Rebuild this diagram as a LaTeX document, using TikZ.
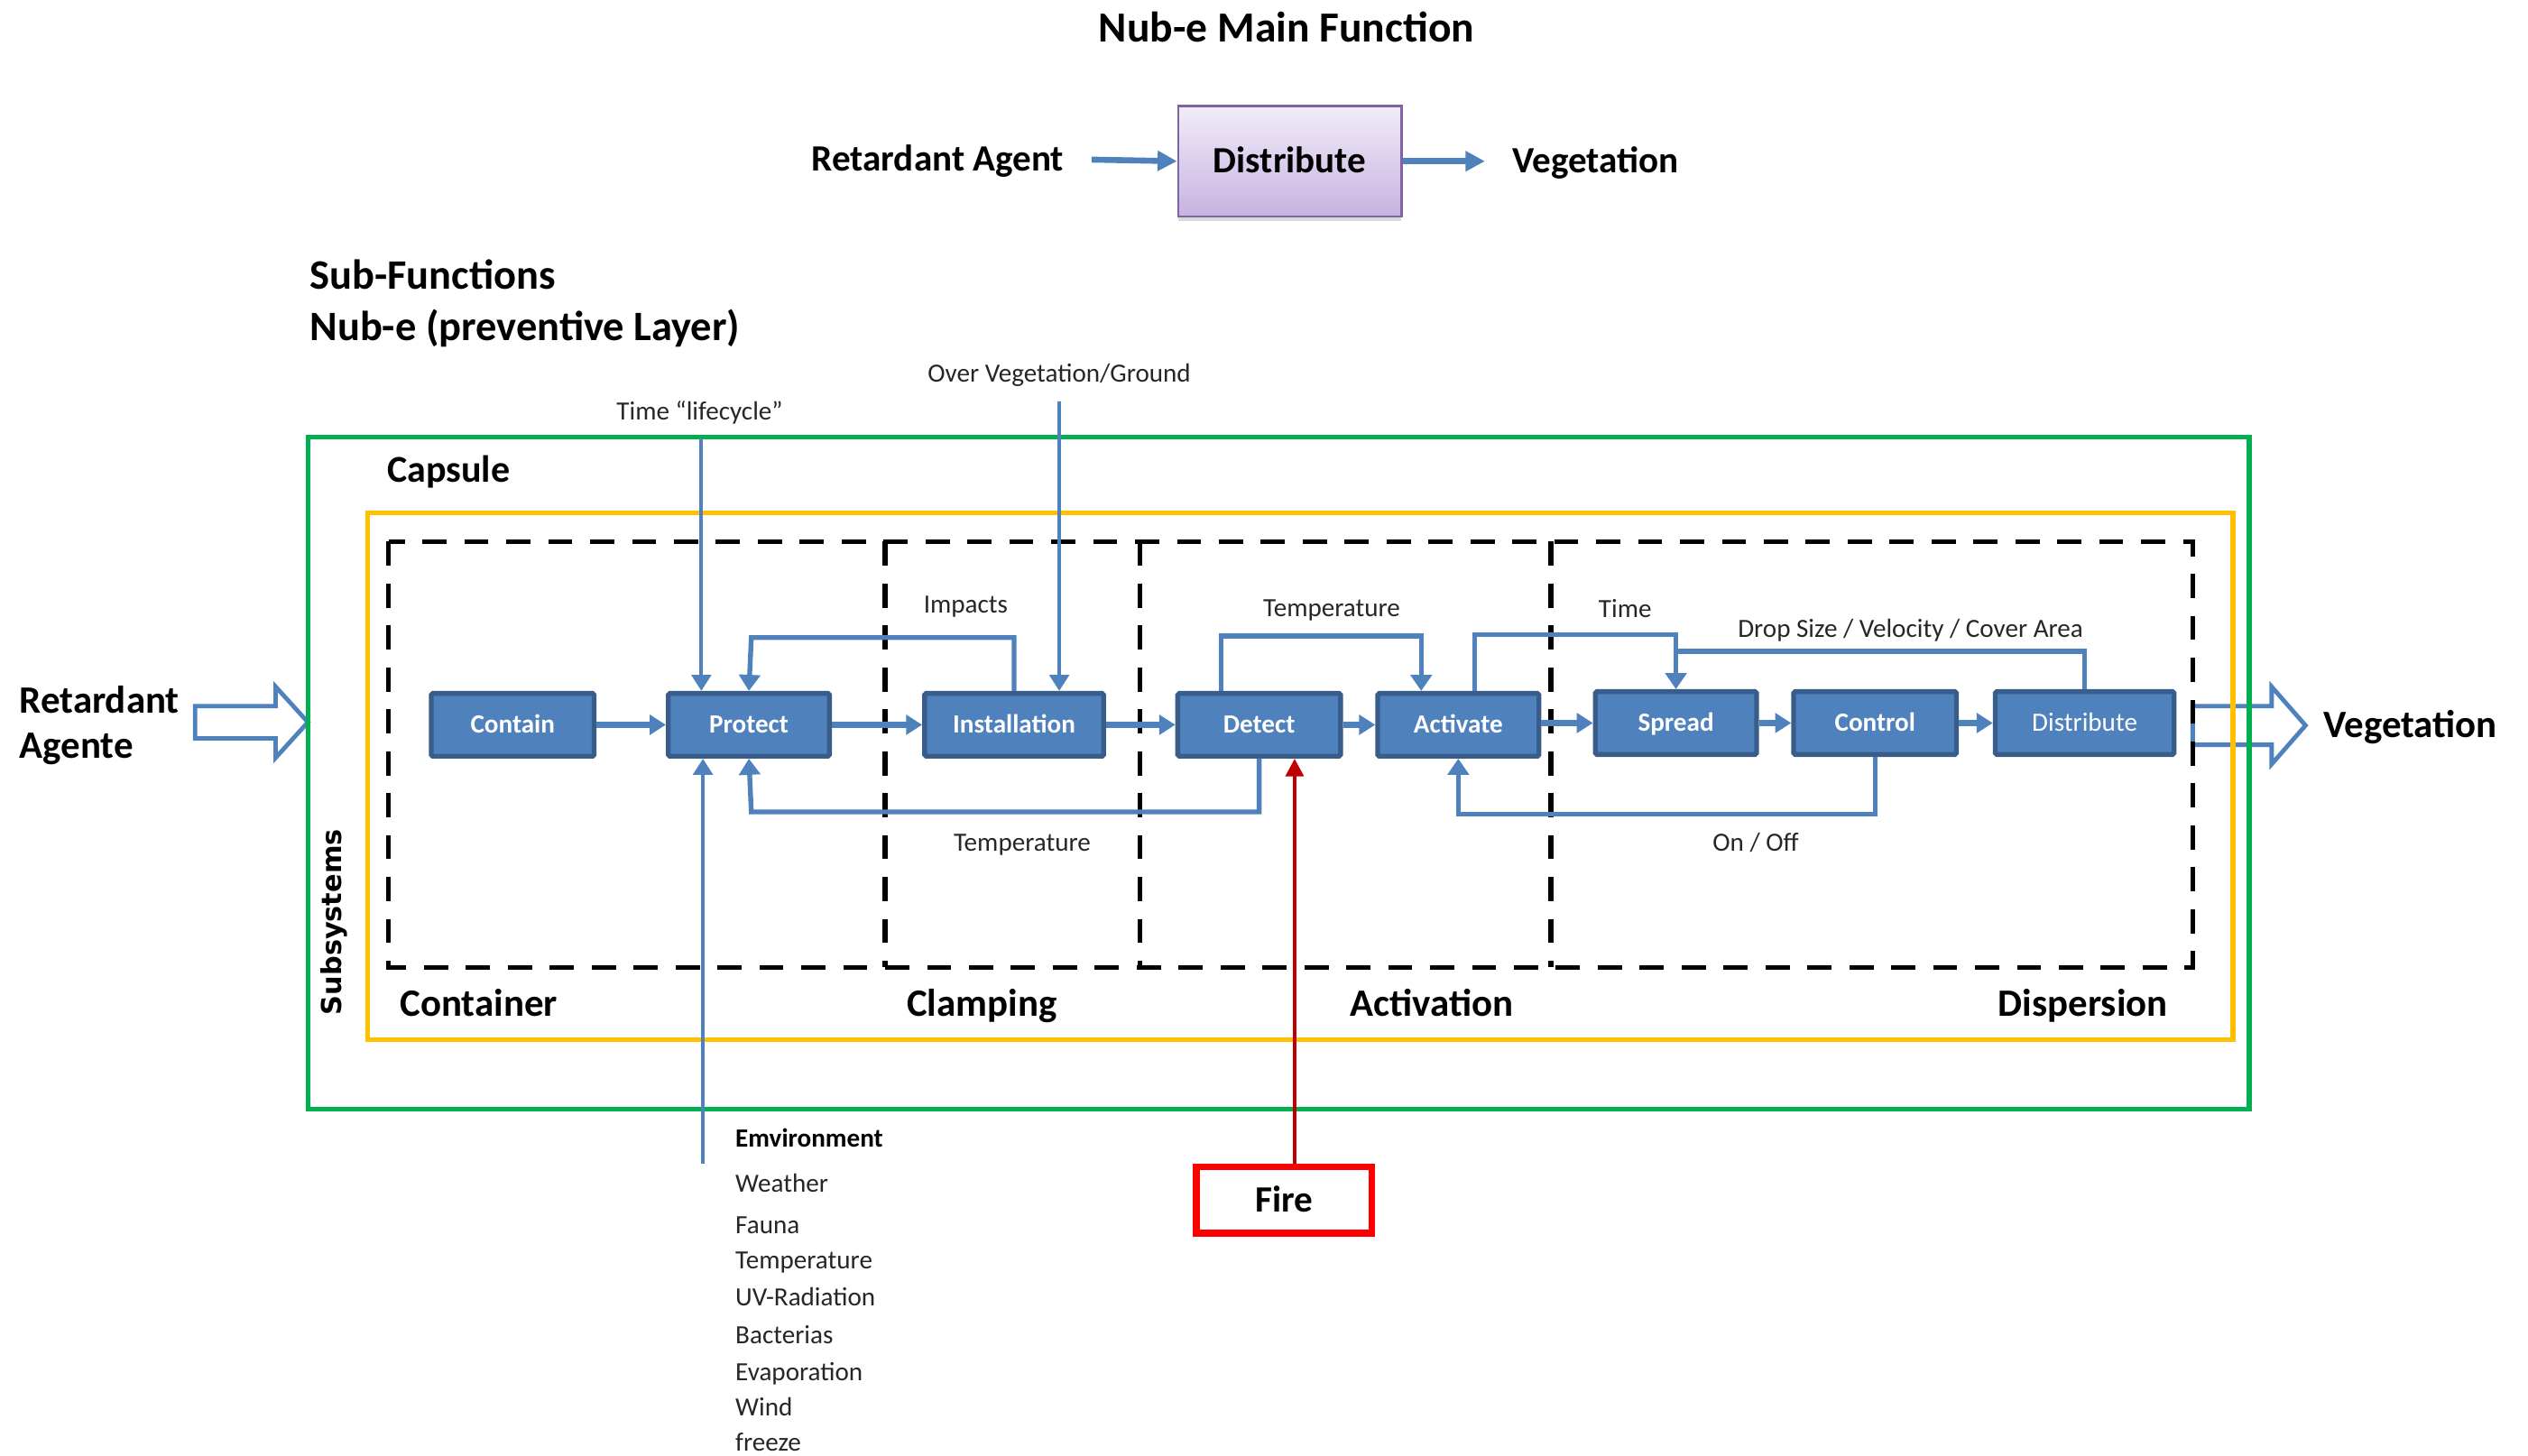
\documentclass[tikz,border=0pt]{standalone}
\usepackage{fontspec}
\setmainfont{Carlito}
\newfontfamily\dejavu{DejaVu Sans}
\usetikzlibrary{arrows.meta,shadows,calc}
\definecolor{fblue}{HTML}{4F81BD}
\definecolor{bborder}{HTML}{385D8A}
\definecolor{gframe}{HTML}{00B050}
\definecolor{yframe}{HTML}{FFC000}
\definecolor{firered}{HTML}{FF0000}
\definecolor{darkred}{HTML}{C00000}
\definecolor{lavtop}{HTML}{F1ECF8}
\definecolor{lavbot}{HTML}{C7B3E1}
\definecolor{purp}{HTML}{8064A2}
\begin{document}
\begin{tikzpicture}[x=1pt,y=-1pt,
  every node/.style={inner sep=0pt},
  big/.style={font=\fontsize{24}{28}\selectfont\bfseries, text height=20pt, text depth=5pt},
  mid/.style={font=\fontsize{23}{27}\selectfont\bfseries, text height=19.5pt, text depth=5pt},
  hd/.style={font=\fontsize{26}{30}\selectfont\bfseries, text height=22pt, text depth=5.5pt},
  small/.style={font=\fontsize{16.3}{19}\selectfont, text=black!85, text height=14pt, text depth=3.5pt},
  envtxt/.style={anchor=west, font=\fontsize{16.3}{19}\selectfont, text=black!85, text height=14pt, text depth=3.5pt},
  blk/.style={rectangle, fill=fblue, draw=bborder, line width=3pt, rounded corners=1pt,
     text=white, font=\fontsize{16.3}{19}\selectfont\bfseries, minimum height=39pt,
     text height=14pt, text depth=3.5pt},
  fb/.style={draw=fblue, line width=3pt, -{Triangle[length=10pt,width=13pt]}},
  thin/.style={draw=fblue, line width=2.4pt, -{Triangle[length=10pt,width=12pt]}},
  flow/.style={draw=fblue, line width=4.2pt, -{Triangle[length=10pt,width=12pt]}},
  topflow/.style={draw=fblue, line width=3.7pt, -{Triangle[length=12pt,width=12pt]}},
  hollow/.style={draw=fblue, line width=2.7pt, fill=white, line join=miter},
  dsh/.style={draw=black, line width=3pt, dash pattern=on 15pt off 11pt},
]
\useasboundingbox (0,0) rectangle (1568,903);

% ---------- top: main function ----------
\node[hd, font=\fontsize{26.6}{30}\selectfont\bfseries] (title) at (798,18) {Nub-e Main Function};
\node[rectangle, draw=purp, line width=1.5pt, top color=lavtop, bottom color=lavbot,
      minimum width=138.5pt, minimum height=68.5pt,
      drop shadow={opacity=0.3,shadow xshift=0pt,shadow yshift=-3pt},
      mid] (dist0) at (800,100) {Distribute};
\node[mid, anchor=east] (ra0) at (660,99) {Retardant Agent};
\node[mid, anchor=west] (veg0) at (938,100) {Vegetation};
\draw[topflow] ([xshift=17pt]ra0.east) -- (dist0.west);
\draw[topflow] (dist0.east) -- ([xshift=-17pt]veg0.west);

% ---------- headings ----------
\node[hd, anchor=west] (subf) at (192,171) {Sub-Functions};
\node[hd, anchor=west] (nube) at (192,203) {Nub-e (preventive Layer)};

% ---------- hollow in/out arrows ----------
\draw[hollow] (121,438) -- (171,438) -- (171,426) -- (191,448) -- (171,470) -- (171,458) -- (121,458) -- cycle;
\draw[hollow] (1360,438) -- (1409,438) -- (1409,426) -- (1430,450) -- (1409,474) -- (1409,462) -- (1360,462) -- cycle;
\node[big, anchor=west] (ra1) at (12,435) {Retardant};
\node[big, anchor=west] (ra2) at (12,463) {Agente};
\node[big, anchor=west] (veg1) at (1441,450) {Vegetation};

% ---------- frames ----------
\draw[gframe, line width=3pt] (191,271) rectangle (1395,688);
\draw[yframe, line width=3pt] (228,318) rectangle (1385,645);
\draw[dsh] (241,336) rectangle (1360,600);
\draw[dsh] (549,336) -- (549,600);
\draw[dsh] (707,336) -- (707,600);
\draw[dsh] (962,336) -- (962,600);

\node[mid, anchor=west, font=\fontsize{23.5}{27}\selectfont\bfseries] (caps) at (240,292) {Capsule};
\node[rotate=90, font=\dejavu\fontsize{17}{20}\selectfont\bfseries] (subsys) at (207,572) {Subsystems};
\node[big, anchor=west] (lcont) at (248,623) {Container};
\node[big] (lclamp) at (609,623) {Clamping};
\node[big] (lact) at (888,623) {Activation};
\node[big] (ldisp) at (1292,623) {Dispersion};

% ---------- blocks ----------
\node[blk, minimum width=101pt] (contain) at (318,449.6) {Contain};
\node[blk, minimum width=100pt] (protect) at (464.5,449.6) {Protect};
\node[blk, minimum width=111pt] (inst) at (629,449.6) {Installation};
\node[blk, minimum width=101pt] (detect) at (781,449.6) {Detect};
\node[blk, minimum width=100pt] (activate) at (904.5,449.6) {Activate};
\node[blk, minimum width=100pt] (spread) at (1039.5,448.5) {Spread};
\node[blk, minimum width=101pt] (control) at (1163,448.5) {Control};
\node[blk, minimum width=111pt, font=\fontsize{16.3}{19}\selectfont] (distr) at (1293,448.5) {Distribute};

\draw[flow] (contain) -- (protect);
\draw[flow] (protect) -- (inst);
\draw[flow] (inst) -- (detect);
\draw[flow] (detect) -- (activate);
\draw[flow] (activate.east |- spread) -- (spread);
\draw[flow] (spread) -- (control);
\draw[flow] (control) -- (distr);

% ---------- feedback / inputs ----------
\coordinate (tl) at (435,272);
\coordinate (ov) at (657,249);
\coordinate (env) at (436,722);
\draw[thin] (tl) -- (tl |- protect.north);
\draw[thin] (ov) -- (ov |- inst.north);
\draw[thin] (env) -- (env |- protect.south);
\node[small] (ltl) at (434,255) {Time “lifecycle”};
\node[small] (lov) at (657,232) {Over Vegetation/Ground};

\draw[fb] (inst.north) |- (466,395.5) -- (protect.north);
\node[small] (limp) at (599,375) {Impacts};

\draw[fb] (detect.south) |- (466,503.6) -- (protect.south);
\node[small] (ltemp1) at (634,523) {Temperature};

\draw[fb] ([xshift=-23.5pt]detect.north) |- (881.5,394.5) -- ([xshift=-23pt]activate.north);
\node[small] (ltemp2) at (826,377) {Temperature};

\draw[fb] ([xshift=10pt]activate.north) |- (1039.5,393.5) -- (spread.north);
\node[small] (ltime) at (1008,378) {Time};

\draw[draw=fblue, line width=3pt] (distr.north) |- (1039.5,404);
\node[small] (ldrop) at (1185,390) {Drop Size / Velocity / Cover Area};

\draw[fb] (control.south) |- (904.5,505) -- (activate.south);
\node[small] (lonoff) at (1089,523) {On / Off};

% ---------- fire ----------
\node[rectangle, draw=firered, line width=4pt, minimum width=109pt, minimum height=41pt,
      mid] (fire) at (796.5,744.5) {Fire};
\draw[draw=darkred, line width=2.4pt, -{Triangle[length=11pt,width=11pt]}]
   ([xshift=6.5pt]fire.north) -- ([xshift=6.5pt]fire.north |- detect.south);

% ---------- environment list ----------
\node[envtxt, font=\fontsize{16.3}{19}\selectfont\bfseries, text=black] (envh) at (456,706) {Emvironment};
\node[envtxt] (e1) at (456,734) {Weather};
\node[envtxt] (e2) at (456,760) {Fauna};
\node[envtxt] (e3) at (456,782) {Temperature};
\node[envtxt] (e4) at (456,805) {UV-Radiation};
\node[envtxt] (e5) at (456,828) {Bacterias};
\node[envtxt] (e6) at (456,851) {Evaporation};
\node[envtxt] (e7) at (456,873) {Wind};
\node[envtxt] (e8) at (456,895) {freeze};
\end{tikzpicture}
\end{document}
